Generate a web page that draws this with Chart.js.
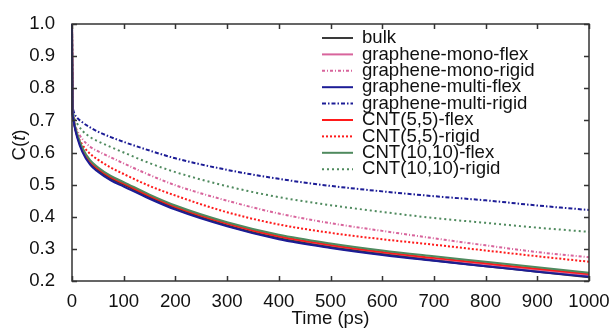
<!DOCTYPE html>
<html>
<head>
<meta charset="utf-8">
<script src="https://cdn.jsdelivr.net/npm/chart.js@4.4.1/dist/chart.umd.min.js"></script>
<style>
  html, body { margin: 0; padding: 0; background: #ffffff; }
  #wrap { width: 612px; height: 329px; position: relative; }
</style>
</head>
<body>
<div id="wrap"><canvas id="c" width="612" height="329"></canvas></div>
<script>
// ---- data ----
const timePs = [0, 1, 2, 5, 10, 20, 35, 50, 75, 100, 150, 200, 300, 400, 500, 600, 700, 800, 900, 1000];

const bulk              = [1.0, 0.730, 0.712, 0.684, 0.652, 0.608, 0.568, 0.546, 0.519, 0.500, 0.461, 0.427, 0.373, 0.333, 0.305, 0.283, 0.264, 0.246, 0.229, 0.212];
const grapheneMonoFlex  = [1.0, 0.730, 0.712, 0.683, 0.651, 0.607, 0.567, 0.545, 0.518, 0.499, 0.460, 0.426, 0.374, 0.335, 0.308, 0.286, 0.268, 0.251, 0.235, 0.218];
const grapheneMonoRigid = [1.0, 0.740, 0.715, 0.690, 0.668, 0.642, 0.618, 0.604, 0.585, 0.566, 0.530, 0.498, 0.450, 0.410, 0.380, 0.356, 0.333, 0.311, 0.290, 0.274];
const grapheneMultiFlex = [1.0, 0.728, 0.709, 0.680, 0.647, 0.602, 0.562, 0.540, 0.513, 0.494, 0.456, 0.422, 0.370, 0.330, 0.303, 0.281, 0.263, 0.246, 0.229, 0.213];
const grapheneMultiRigid= [1.0, 0.760, 0.735, 0.720, 0.708, 0.694, 0.678, 0.665, 0.648, 0.633, 0.606, 0.582, 0.546, 0.518, 0.496, 0.479, 0.464, 0.451, 0.435, 0.421];
const cnt55Flex         = [1.0, 0.732, 0.714, 0.686, 0.655, 0.611, 0.572, 0.550, 0.523, 0.504, 0.465, 0.431, 0.379, 0.339, 0.312, 0.290, 0.272, 0.255, 0.238, 0.222];
const cnt55Rigid        = [1.0, 0.735, 0.710, 0.680, 0.655, 0.624, 0.596, 0.578, 0.553, 0.533, 0.496, 0.466, 0.414, 0.376, 0.350, 0.330, 0.313, 0.295, 0.277, 0.260];
const cnt1010Flex       = [1.0, 0.734, 0.716, 0.689, 0.658, 0.615, 0.576, 0.554, 0.527, 0.508, 0.469, 0.435, 0.383, 0.344, 0.317, 0.295, 0.277, 0.260, 0.243, 0.226];
const cnt1010Rigid      = [1.0, 0.750, 0.725, 0.705, 0.690, 0.668, 0.648, 0.635, 0.617, 0.600, 0.567, 0.539, 0.495, 0.461, 0.436, 0.415, 0.396, 0.381, 0.366, 0.353];

const seriesLabels = ["bulk", "graphene-mono-flex", "graphene-mono-rigid", "graphene-multi-flex", "graphene-multi-rigid",
                      "CNT(5,5)-flex", "CNT(5,5)-rigid", "CNT(10,10)-flex", "CNT(10,10)-rigid"];
const seriesValues = [bulk, grapheneMonoFlex, grapheneMonoRigid, grapheneMultiFlex, grapheneMultiRigid,
                      cnt55Flex, cnt55Rigid, cnt1010Flex, cnt1010Rigid];

const xTicks = [0, 100, 200, 300, 400, 500, 600, 700, 800, 900, 1000];
const yTicks = [0.2, 0.3, 0.4, 0.5, 0.6, 0.7, 0.8, 0.9, 1.0];

// ---- styles ----
const seriesColors = ["#3a3a3a", "#d8649c", "#d8649c", "#1c1c96", "#1c1c96", "#ff1a1a", "#ff1a1a", "#4f8a5e", "#4f8a5e"];
const seriesDash = [[], [], [3, 2, 1, 2], [], [4, 2, 1.5, 2], [], [2, 2], [], [2, 3]];

const FONT = "'Liberation Sans', Arial, sans-serif";
const FS = 18.6;

const datasets = seriesLabels.map((lab, i) => ({
  label: lab,
  data: timePs.map((t, j) => ({ x: t, y: seriesValues[i][j] })),
  borderColor: seriesColors[i],
  backgroundColor: seriesColors[i],
  borderDash: seriesDash[i],
  borderWidth: 2,
  pointRadius: 0,
  fill: false,
  cubicInterpolationMode: 'monotone',
  clip: 4
}));

const order = [2, 4, 6, 8, 1, 0, 5, 7, 3];
order.forEach((idx, k) => { datasets[idx].order = 9 - k; });

const framePlugin = {
  id: 'frame',
  afterDraw(chart) {
    const ctx = chart.ctx;
    const a = chart.chartArea;
    const xs = chart.scales.x, ys = chart.scales.y;
    ctx.save();
    ctx.strokeStyle = '#333333';
    ctx.lineWidth = 1.5;
    ctx.strokeRect(a.left, a.top, a.right - a.left, a.bottom - a.top);
    const L = 5;
    ctx.beginPath();
    xTicks.forEach(v => {
      const px = Math.round(xs.getPixelForValue(v)) + 0.5;
      ctx.moveTo(px, a.bottom); ctx.lineTo(px, a.bottom - L);
      ctx.moveTo(px, a.top); ctx.lineTo(px, a.top + L);
    });
    yTicks.forEach(v => {
      const py = Math.round(ys.getPixelForValue(v)) + 0.5;
      ctx.moveTo(a.left, py); ctx.lineTo(a.left + L, py);
      ctx.moveTo(a.right, py); ctx.lineTo(a.right - L, py);
    });
    ctx.stroke();

    ctx.fillStyle = '#111111';
    ctx.font = FS + 'px ' + FONT;
    ctx.textAlign = 'center';
    ctx.textBaseline = 'middle';
    ctx.fillText('Time (ps)', (a.left + a.right) / 2, 319);

    ctx.save();
    ctx.translate(20, 145);
    ctx.rotate(-Math.PI / 2);
    const parts = [['C(', FS + 'px ' + FONT], ['t', 'italic ' + FS + 'px ' + FONT], [')', FS + 'px ' + FONT]];
    let total = 0;
    parts.forEach(p => { ctx.font = p[1]; total += ctx.measureText(p[0]).width; });
    let x0 = -total / 2;
    ctx.textAlign = 'left';
    parts.forEach(p => { ctx.font = p[1]; ctx.fillText(p[0], x0, 0); x0 += ctx.measureText(p[0]).width; });
    ctx.restore();

    const lx0 = 322, lx1 = 353, tx = 362, y0 = 38, step = 16.4;
    chart.data.datasets.forEach((ds, i) => {
      const y = y0 + i * step;
      ctx.save();
      ctx.strokeStyle = ds.borderColor;
      ctx.lineWidth = 2;
      ctx.setLineDash(ds.borderDash || []);
      ctx.beginPath();
      ctx.moveTo(lx0, y); ctx.lineTo(lx1, y);
      ctx.stroke();
      ctx.restore();
      ctx.fillStyle = '#111111';
      ctx.font = FS + 'px ' + FONT;
      ctx.textAlign = 'left';
      ctx.textBaseline = 'middle';
      ctx.fillText(ds.label, tx, y);
    });
    ctx.restore();
  }
};

new Chart(document.getElementById('c'), {
  type: 'line',
  data: { datasets },
  options: {
    responsive: false,
    animation: false,
    layout: { padding: { top: 24, right: 23, left: 0, bottom: 0 } },
    plugins: { legend: { display: false }, tooltip: { enabled: false } },
    scales: {
      x: {
        type: 'linear', min: 0, max: 1000,
        afterBuildTicks: s => { s.ticks = xTicks.map(v => ({ value: v })); },
        afterFit: s => { s.height = 48; },
        grid: { display: false },
        border: { display: false },
        ticks: { color: '#111111', font: { family: FONT, size: FS }, padding: 2, maxRotation: 0, autoSkip: false,
                 callback: v => String(v) }
      },
      y: {
        type: 'linear', min: 0.2, max: 1.0,
        afterBuildTicks: s => { s.ticks = yTicks.map(v => ({ value: v })); },
        afterFit: s => { s.width = 72; },
        grid: { display: false },
        border: { display: false },
        ticks: { color: '#111111', font: { family: FONT, size: FS }, padding: 9,
                 callback: v => Number(v).toFixed(1) }
      }
    }
  },
  plugins: [framePlugin]
});
</script>
</body>
</html>
